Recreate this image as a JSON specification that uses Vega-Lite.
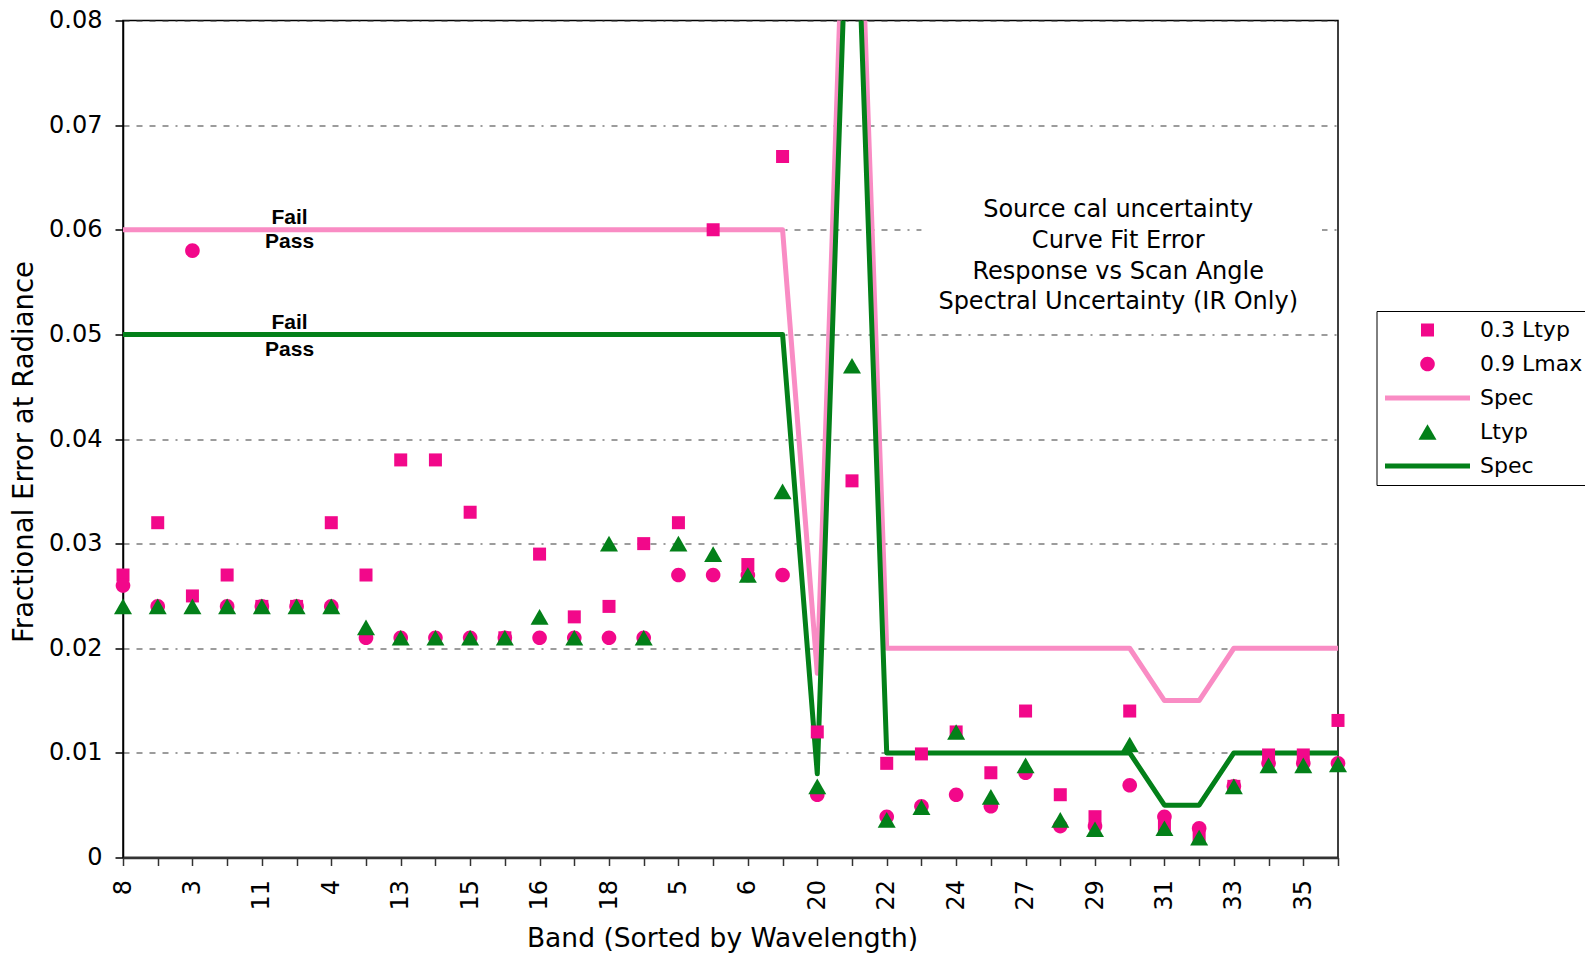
{
  "$schema": "https://vega.github.io/schema/vega-lite/v6.json",
  "autosize": {"type": "none"},
  "width": 1215,
  "height": 837,
  "padding": {"left": 123, "top": 20.5, "right": 247, "bottom": 95.5},
  "background": "white",
  "config": {
    "view": {"stroke": "black", "strokeWidth": 1.5},
    "font": "DejaVu Sans"
  },
  "data": {"values": [
    {"band":"8","series":"0.3 Ltyp","value":0.027},{"band":"9","series":"0.3 Ltyp","value":0.032},{"band":"3","series":"0.3 Ltyp","value":0.025},{"band":"10","series":"0.3 Ltyp","value":0.027},{"band":"11","series":"0.3 Ltyp","value":0.024},{"band":"12","series":"0.3 Ltyp","value":0.024},{"band":"4","series":"0.3 Ltyp","value":0.032},{"band":"1","series":"0.3 Ltyp","value":0.027},{"band":"13","series":"0.3 Ltyp","value":0.038},{"band":"14","series":"0.3 Ltyp","value":0.038},{"band":"15","series":"0.3 Ltyp","value":0.033},{"band":"2","series":"0.3 Ltyp","value":0.021},{"band":"16","series":"0.3 Ltyp","value":0.029},{"band":"17","series":"0.3 Ltyp","value":0.023},{"band":"18","series":"0.3 Ltyp","value":0.024},{"band":"19","series":"0.3 Ltyp","value":0.030},{"band":"5","series":"0.3 Ltyp","value":0.032},{"band":"26","series":"0.3 Ltyp","value":0.060},{"band":"6","series":"0.3 Ltyp","value":0.028},{"band":"7","series":"0.3 Ltyp","value":0.067},{"band":"20","series":"0.3 Ltyp","value":0.012},{"band":"21","series":"0.3 Ltyp","value":0.036},{"band":"22","series":"0.3 Ltyp","value":0.009},{"band":"23","series":"0.3 Ltyp","value":0.0099},{"band":"24","series":"0.3 Ltyp","value":0.012},{"band":"25","series":"0.3 Ltyp","value":0.0081},{"band":"27","series":"0.3 Ltyp","value":0.014},{"band":"28","series":"0.3 Ltyp","value":0.006},{"band":"29","series":"0.3 Ltyp","value":0.0039},{"band":"30","series":"0.3 Ltyp","value":0.014},{"band":"31","series":"0.3 Ltyp","value":0.003},{"band":"32","series":"0.3 Ltyp","value":0.002},{"band":"33","series":"0.3 Ltyp","value":0.0068},{"band":"34","series":"0.3 Ltyp","value":0.0098},{"band":"35","series":"0.3 Ltyp","value":0.0098},{"band":"36","series":"0.3 Ltyp","value":0.0131},
    {"band":"8","series":"0.9 Lmax","value":0.026},{"band":"9","series":"0.9 Lmax","value":0.024},{"band":"3","series":"0.9 Lmax","value":0.058},{"band":"10","series":"0.9 Lmax","value":0.024},{"band":"11","series":"0.9 Lmax","value":0.024},{"band":"12","series":"0.9 Lmax","value":0.024},{"band":"4","series":"0.9 Lmax","value":0.024},{"band":"1","series":"0.9 Lmax","value":0.021},{"band":"13","series":"0.9 Lmax","value":0.021},{"band":"14","series":"0.9 Lmax","value":0.021},{"band":"15","series":"0.9 Lmax","value":0.021},{"band":"2","series":"0.9 Lmax","value":0.021},{"band":"16","series":"0.9 Lmax","value":0.021},{"band":"17","series":"0.9 Lmax","value":0.021},{"band":"18","series":"0.9 Lmax","value":0.021},{"band":"19","series":"0.9 Lmax","value":0.021},{"band":"5","series":"0.9 Lmax","value":0.027},{"band":"26","series":"0.9 Lmax","value":0.027},{"band":"6","series":"0.9 Lmax","value":0.027},{"band":"7","series":"0.9 Lmax","value":0.027},{"band":"20","series":"0.9 Lmax","value":0.006},{"band":"22","series":"0.9 Lmax","value":0.0039},{"band":"23","series":"0.9 Lmax","value":0.0049},{"band":"24","series":"0.9 Lmax","value":0.006},{"band":"25","series":"0.9 Lmax","value":0.0049},{"band":"27","series":"0.9 Lmax","value":0.0081},{"band":"28","series":"0.9 Lmax","value":0.003},{"band":"29","series":"0.9 Lmax","value":0.003},{"band":"30","series":"0.9 Lmax","value":0.0069},{"band":"31","series":"0.9 Lmax","value":0.0039},{"band":"32","series":"0.9 Lmax","value":0.0028},{"band":"33","series":"0.9 Lmax","value":0.0068},{"band":"34","series":"0.9 Lmax","value":0.009},{"band":"35","series":"0.9 Lmax","value":0.009},{"band":"36","series":"0.9 Lmax","value":0.009},
    {"band":"8","series":"Ltyp","value":0.024},{"band":"9","series":"Ltyp","value":0.024},{"band":"3","series":"Ltyp","value":0.024},{"band":"10","series":"Ltyp","value":0.024},{"band":"11","series":"Ltyp","value":0.024},{"band":"12","series":"Ltyp","value":0.024},{"band":"4","series":"Ltyp","value":0.024},{"band":"1","series":"Ltyp","value":0.022},{"band":"13","series":"Ltyp","value":0.021},{"band":"14","series":"Ltyp","value":0.021},{"band":"15","series":"Ltyp","value":0.021},{"band":"2","series":"Ltyp","value":0.021},{"band":"16","series":"Ltyp","value":0.023},{"band":"17","series":"Ltyp","value":0.021},{"band":"18","series":"Ltyp","value":0.030},{"band":"19","series":"Ltyp","value":0.021},{"band":"5","series":"Ltyp","value":0.030},{"band":"26","series":"Ltyp","value":0.029},{"band":"6","series":"Ltyp","value":0.027},{"band":"7","series":"Ltyp","value":0.035},{"band":"20","series":"Ltyp","value":0.0068},{"band":"21","series":"Ltyp","value":0.047},{"band":"22","series":"Ltyp","value":0.0036},{"band":"23","series":"Ltyp","value":0.0048},{"band":"24","series":"Ltyp","value":0.012},{"band":"25","series":"Ltyp","value":0.0058},{"band":"27","series":"Ltyp","value":0.0088},{"band":"28","series":"Ltyp","value":0.0036},{"band":"29","series":"Ltyp","value":0.0027},{"band":"30","series":"Ltyp","value":0.0108},{"band":"31","series":"Ltyp","value":0.0028},{"band":"32","series":"Ltyp","value":0.0019},{"band":"33","series":"Ltyp","value":0.0068},{"band":"34","series":"Ltyp","value":0.0088},{"band":"35","series":"Ltyp","value":0.0088},{"band":"36","series":"Ltyp","value":0.0089},
    {"band":"8","series":"Spec (0.3 Ltyp)","value":0.06},{"band":"9","series":"Spec (0.3 Ltyp)","value":0.06},{"band":"3","series":"Spec (0.3 Ltyp)","value":0.06},{"band":"10","series":"Spec (0.3 Ltyp)","value":0.06},{"band":"11","series":"Spec (0.3 Ltyp)","value":0.06},{"band":"12","series":"Spec (0.3 Ltyp)","value":0.06},{"band":"4","series":"Spec (0.3 Ltyp)","value":0.06},{"band":"1","series":"Spec (0.3 Ltyp)","value":0.06},{"band":"13","series":"Spec (0.3 Ltyp)","value":0.06},{"band":"14","series":"Spec (0.3 Ltyp)","value":0.06},{"band":"15","series":"Spec (0.3 Ltyp)","value":0.06},{"band":"2","series":"Spec (0.3 Ltyp)","value":0.06},{"band":"16","series":"Spec (0.3 Ltyp)","value":0.06},{"band":"17","series":"Spec (0.3 Ltyp)","value":0.06},{"band":"18","series":"Spec (0.3 Ltyp)","value":0.06},{"band":"19","series":"Spec (0.3 Ltyp)","value":0.06},{"band":"5","series":"Spec (0.3 Ltyp)","value":0.06},{"band":"26","series":"Spec (0.3 Ltyp)","value":0.06},{"band":"6","series":"Spec (0.3 Ltyp)","value":0.06},{"band":"7","series":"Spec (0.3 Ltyp)","value":0.06},{"band":"20","series":"Spec (0.3 Ltyp)","value":0.0176},{"band":"21","series":"Spec (0.3 Ltyp)","value":0.115},{"band":"22","series":"Spec (0.3 Ltyp)","value":0.02},{"band":"23","series":"Spec (0.3 Ltyp)","value":0.02},{"band":"24","series":"Spec (0.3 Ltyp)","value":0.02},{"band":"25","series":"Spec (0.3 Ltyp)","value":0.02},{"band":"27","series":"Spec (0.3 Ltyp)","value":0.02},{"band":"28","series":"Spec (0.3 Ltyp)","value":0.02},{"band":"29","series":"Spec (0.3 Ltyp)","value":0.02},{"band":"30","series":"Spec (0.3 Ltyp)","value":0.02},{"band":"31","series":"Spec (0.3 Ltyp)","value":0.015},{"band":"32","series":"Spec (0.3 Ltyp)","value":0.015},{"band":"33","series":"Spec (0.3 Ltyp)","value":0.02},{"band":"34","series":"Spec (0.3 Ltyp)","value":0.02},{"band":"35","series":"Spec (0.3 Ltyp)","value":0.02},{"band":"36","series":"Spec (0.3 Ltyp)","value":0.02},
    {"band":"8","series":"Spec (Ltyp)","value":0.05},{"band":"9","series":"Spec (Ltyp)","value":0.05},{"band":"3","series":"Spec (Ltyp)","value":0.05},{"band":"10","series":"Spec (Ltyp)","value":0.05},{"band":"11","series":"Spec (Ltyp)","value":0.05},{"band":"12","series":"Spec (Ltyp)","value":0.05},{"band":"4","series":"Spec (Ltyp)","value":0.05},{"band":"1","series":"Spec (Ltyp)","value":0.05},{"band":"13","series":"Spec (Ltyp)","value":0.05},{"band":"14","series":"Spec (Ltyp)","value":0.05},{"band":"15","series":"Spec (Ltyp)","value":0.05},{"band":"2","series":"Spec (Ltyp)","value":0.05},{"band":"16","series":"Spec (Ltyp)","value":0.05},{"band":"17","series":"Spec (Ltyp)","value":0.05},{"band":"18","series":"Spec (Ltyp)","value":0.05},{"band":"19","series":"Spec (Ltyp)","value":0.05},{"band":"5","series":"Spec (Ltyp)","value":0.05},{"band":"26","series":"Spec (Ltyp)","value":0.05},{"band":"6","series":"Spec (Ltyp)","value":0.05},{"band":"7","series":"Spec (Ltyp)","value":0.05},{"band":"20","series":"Spec (Ltyp)","value":0.008},{"band":"21","series":"Spec (Ltyp)","value":0.105},{"band":"22","series":"Spec (Ltyp)","value":0.01},{"band":"23","series":"Spec (Ltyp)","value":0.01},{"band":"24","series":"Spec (Ltyp)","value":0.01},{"band":"25","series":"Spec (Ltyp)","value":0.01},{"band":"27","series":"Spec (Ltyp)","value":0.01},{"band":"28","series":"Spec (Ltyp)","value":0.01},{"band":"29","series":"Spec (Ltyp)","value":0.01},{"band":"30","series":"Spec (Ltyp)","value":0.01},{"band":"31","series":"Spec (Ltyp)","value":0.005},{"band":"32","series":"Spec (Ltyp)","value":0.005},{"band":"33","series":"Spec (Ltyp)","value":0.01},{"band":"34","series":"Spec (Ltyp)","value":0.01},{"band":"35","series":"Spec (Ltyp)","value":0.01},{"band":"36","series":"Spec (Ltyp)","value":0.01}
  ]},
  "encoding": {
    "x": {
      "field": "band", "type": "nominal",
      "scale": {"type": "point", "padding": 0, "domain": ["8","9","3","10","11","12","4","1","13","14","15","2","16","17","18","19","5","26","6","7","20","21","22","23","24","25","27","28","29","30","31","32","33","34","35","36"]},
      "axis": {
        "title": "Band (Sorted by Wavelength)",
        "titleFont": "DejaVu Sans", "titleFontSize": 26.5, "titleFontWeight": "normal", "titleColor": "black",
        "titleBaseline": "alphabetic", "titleX": 599, "titleY": 89, "titleAnchor": "middle", "titleAlign": "center",
        "labelAngle": -90, "labelFontSize": 24, "labelColor": "black", "labelPadding": 14, "labelOverlap": false,
        "labelExpr": "indexof(['8','3','11','4','13','15','16','18','5','6','20','22','24','27','29','31','33','35'], datum.value) >= 0 ? datum.label : ''",
        "tickSize": 8, "tickColor": "#333333", "tickWidth": 1.5,
        "domainColor": "#333333", "domainWidth": 2.5, "grid": false
      }
    },
    "y": {
      "field": "value", "type": "quantitative",
      "scale": {"domain": [0, 0.08], "nice": false, "zero": true},
      "axis": {
        "title": "Fractional Error at Radiance",
        "titleFont": "DejaVu Sans", "titleFontSize": 27.5, "titleFontWeight": "normal", "titleColor": "black",
        "titleBaseline": "alphabetic", "titleX": -91, "titleY": 431, "titleAngle": -90,
        "values": [0, 0.01, 0.02, 0.03, 0.04, 0.05, 0.06, 0.07, 0.08],
        "labelExpr": "datum.value == 0 ? '0' : format(datum.value, '.2f')",
        "labelFontSize": 24, "labelColor": "black", "labelPadding": 13,
        "tickSize": 8, "tickColor": "black", "tickWidth": 1.5,
        "domainColor": "black", "domainWidth": 1.5,
        "grid": true, "gridColor": "#3a3a3a", "gridWidth": 1.2, "gridDash": [6, 7, 6, 7, 6, 7, 6, 7, 2, 7]
      }
    }
  },
  "layer": [
    {
      "data": {"values": [{"band": "23", "band2": "36", "value": 0.052, "value2": 0.064}]},
      "mark": {"type": "rect", "fill": "white", "x2Offset": -16},
      "encoding": {"x2": {"field": "band2"}, "y2": {"field": "value2"}}
    },
    {
      "transform": [{"filter": "datum.series == 'Spec (0.3 Ltyp)'"}],
      "mark": {"type": "line", "stroke": "#F98CC4", "strokeWidth": 5, "clip": true, "strokeJoin": "round"},
      "encoding": {"order": {"value": null}}
    },
    {
      "transform": [{"filter": "datum.series == 'Spec (Ltyp)'"}],
      "mark": {"type": "line", "stroke": "#038019", "strokeWidth": 5, "clip": true, "strokeJoin": "round"},
      "encoding": {"order": {"value": null}}
    },
    {
      "transform": [{"filter": "indexof(['0.3 Ltyp','0.9 Lmax','Ltyp'], datum.series) >= 0"}],
      "mark": {"type": "point", "filled": true, "opacity": 1, "size": 7225, "strokeWidth": 0},
      "encoding": {
        "color": {
          "field": "series", "type": "nominal",
          "scale": {"domain": ["0.3 Ltyp", "0.9 Lmax", "Spec (0.3 Ltyp)", "Ltyp", "Spec (Ltyp)"], "range": ["#F2088A", "#F2088A", "#F98CC4", "#038019", "#038019"]},
          "legend": {
            "orient": "none", "legendX": 1253.5, "legendY": 290.5, "title": null,
            "labelFontSize": 22, "labelFont": "DejaVu Sans", "labelColor": "black", "labelOffset": 7.5,
            "labelExpr": "indexof(datum.label, 'Spec') == 0 ? 'Spec' : datum.label",
            "padding": 6, "rowPadding": 8, "clipHeight": 26,
            "strokeColor": "black", "fillColor": "white",
            "symbolSize": 7225, "symbolStrokeWidth": 5, "symbolOpacity": 1,
            "encode": {"symbols": {"update": {
              "stroke": {"signal": "datum.value == 'Spec (0.3 Ltyp)' ? '#F98CC4' : datum.value == 'Spec (Ltyp)' ? '#038019' : 'transparent'"},
              "strokeWidth": {"value": 5}
            }}}
          }
        },
        "shape": {
          "field": "series", "type": "nominal",
          "scale": {"domain": ["0.3 Ltyp", "0.9 Lmax", "Spec (0.3 Ltyp)", "Ltyp", "Spec (Ltyp)"],
            "range": ["M-0.153,-0.153H0.153V0.153H-0.153Z", "M-0.172,0A0.172,0.172,0,1,1,0.172,0A0.172,0.172,0,1,1,-0.172,0Z", "stroke", "M0,-0.184L0.212,0.184L-0.212,0.184Z", "stroke"]}
        }
      }
    },
    {
      "data": {"values": [
        {"band": "12", "value": 0.0611, "label": "Fail"},
        {"band": "12", "value": 0.0588, "label": "Pass"},
        {"band": "12", "value": 0.0511, "label": "Fail"},
        {"band": "12", "value": 0.0485, "label": "Pass"}
      ]},
      "mark": {"type": "text", "font": "Liberation Sans", "fontWeight": "bold", "fontSize": 21, "color": "black", "align": "center", "baseline": "middle", "dx": -7},
      "encoding": {"text": {"field": "label"}}
    },
    {
      "data": {"values": [
        {"band": "30", "value": 0.0619, "label": "Source cal uncertainty"},
        {"band": "30", "value": 0.0589, "label": "Curve Fit Error"},
        {"band": "30", "value": 0.0560, "label": "Response vs Scan Angle"},
        {"band": "30", "value": 0.0531, "label": "Spectral Uncertainty (IR Only)"}
      ]},
      "mark": {"type": "text", "font": "DejaVu Sans", "fontSize": 24, "color": "black", "align": "center", "baseline": "middle", "dx": -11.5},
      "encoding": {"text": {"field": "label"}}
    }
  ]
}
